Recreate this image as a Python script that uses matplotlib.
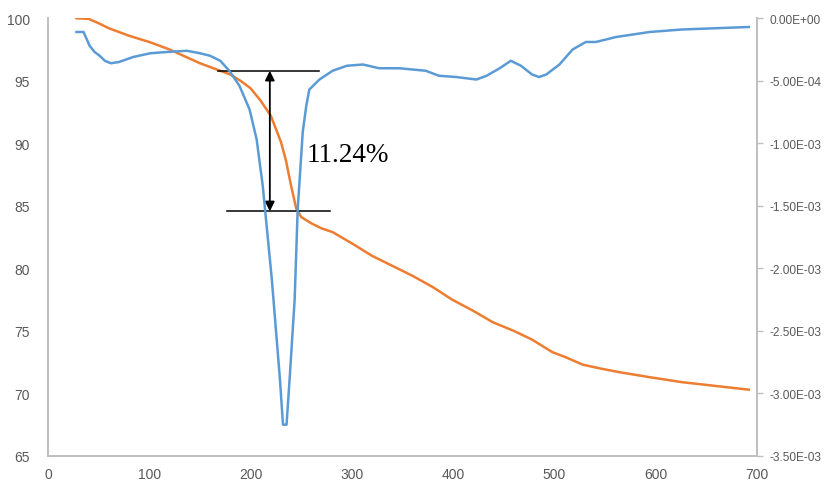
import matplotlib
matplotlib.use("Agg")
import matplotlib.pyplot as plt
from matplotlib.ticker import FuncFormatter, MultipleLocator

# TG curve: temperature (°C) vs residual mass (%)
tg_temp = [28, 40, 50, 60, 80, 100, 120, 150, 170, 180, 190, 200, 210, 220, 230,
           235, 240, 245, 250, 260, 270, 281, 300, 320, 340, 360, 380, 399, 420,
           439, 460, 478, 498, 511, 528, 545, 564, 594, 626, 659, 692]
tg_mass = [100.0, 99.95, 99.6, 99.2, 98.6, 98.1, 97.5, 96.4, 95.8, 95.5, 95.0, 94.4,
           93.4, 92.2, 90.1, 88.6, 86.6, 84.8, 84.1, 83.6, 83.2, 82.9, 82.0, 81.0,
           80.2, 79.4, 78.5, 77.5, 76.6, 75.7, 75.0, 74.3, 73.3, 72.9, 72.3, 72.0,
           71.7, 71.3, 70.9, 70.6, 70.3]

# DTG curve: temperature (°C) vs mass-loss rate
dtg_temp = [28, 35, 41, 46, 51, 56, 62, 70, 84, 101, 117, 137, 150, 160, 170, 179,
            189, 199, 206, 212, 221, 229, 232, 235.5, 238.5, 243.5, 246.5, 251.5,
            255, 258, 268, 281, 295, 311, 327, 347, 373, 386, 403, 413, 423, 433,
            446, 457, 467, 478, 485, 492, 505, 518, 531, 541, 561, 594, 626, 659, 692]
dtg_rate = [-1.1e-4, -1.1e-4, -2.2e-4, -2.7e-4, -3.0e-4, -3.4e-4, -3.6e-4, -3.5e-4,
            -3.1e-4, -2.8e-4, -2.7e-4, -2.6e-4, -2.8e-4, -3.0e-4, -3.4e-4, -4.2e-4,
            -5.4e-4, -7.3e-4, -9.7e-4, -1.34e-3, -2.09e-3, -2.89e-3, -3.25e-3,
            -3.25e-3, -2.89e-3, -2.25e-3, -1.53e-3, -9.1e-4, -7.0e-4, -5.7e-4,
            -4.9e-4, -4.2e-4, -3.8e-4, -3.7e-4, -4.0e-4, -4.0e-4, -4.2e-4, -4.6e-4,
            -4.7e-4, -4.8e-4, -4.9e-4, -4.6e-4, -4.0e-4, -3.4e-4, -3.8e-4, -4.5e-4,
            -4.7e-4, -4.5e-4, -3.7e-4, -2.5e-4, -1.9e-4, -1.9e-4, -1.5e-4, -1.1e-4,
            -0.9e-4, -0.8e-4, -0.7e-4]

# Mass-loss step marked on the TG curve
step_upper = 95.8
step_loss = 11.24
step_lower = step_upper - step_loss
step_label = "11.24%"

x_ticks = [0, 100, 200, 300, 400, 500, 600, 700]

BLUE = "#5B9BD5"
ORANGE = "#ED7D31"
GRID_GREY = "#BFBFBF"
TEXT_GREY = "#595959"

plt.rcParams["font.family"] = ["Liberation Sans", "DejaVu Sans"]

fig = plt.figure(figsize=(8.29, 4.81), dpi=100)
ax = fig.add_axes([0.058, 0.050, 0.855, 0.910])
ax2 = ax.twinx()

ax.plot(tg_temp, tg_mass, color=ORANGE, lw=1.8, zorder=3)
ax2.plot(dtg_temp, dtg_rate, color=BLUE, lw=1.8, zorder=3)

ax.set_xlim(0, 700)
ax.set_ylim(65, 100)
ax2.set_ylim(-3.5e-3, 0)
ax.set_xticks(x_ticks)
ax.yaxis.set_major_locator(MultipleLocator(5))
ax2.yaxis.set_major_locator(MultipleLocator(5e-4))


def sci_fmt(v, pos):
    if abs(v) < 1e-12:
        return "0.00E+00"
    return f"{v:.2E}"


ax2.yaxis.set_major_formatter(FuncFormatter(sci_fmt))

for a in (ax, ax2):
    for side in ("top", "left", "right", "bottom"):
        a.spines[side].set_color(GRID_GREY)
        a.spines[side].set_linewidth(1.2)
    a.spines["top"].set_visible(False)

ax.tick_params(axis="both", length=0, labelsize=10, labelcolor=TEXT_GREY)
ax.tick_params(axis="y", pad=13)
ax.tick_params(axis="x", pad=8)
ax2.tick_params(axis="y", length=4, color=GRID_GREY, width=1.0,
                labelsize=8.6, labelcolor=TEXT_GREY, pad=5)

# Step annotation: two reference lines, a double arrow and the loss value
ax.plot([168, 268], [step_upper, step_upper], color="black", lw=1.1, zorder=4)
ax.plot([177, 278], [step_lower, step_lower], color="black", lw=1.1, zorder=4)
ax.annotate("", xy=(219, step_upper), xytext=(219, step_lower),
            arrowprops=dict(arrowstyle="<|-|>", color="black", lw=1.3,
                            mutation_scale=14, shrinkA=0, shrinkB=0),
            zorder=5)
ax.text(255, 89.1, step_label, fontsize=19.5, family=["Liberation Serif", "DejaVu Serif"],
        color="black", va="center", ha="left", zorder=5)

fig.savefig("out.png", dpi=100)
